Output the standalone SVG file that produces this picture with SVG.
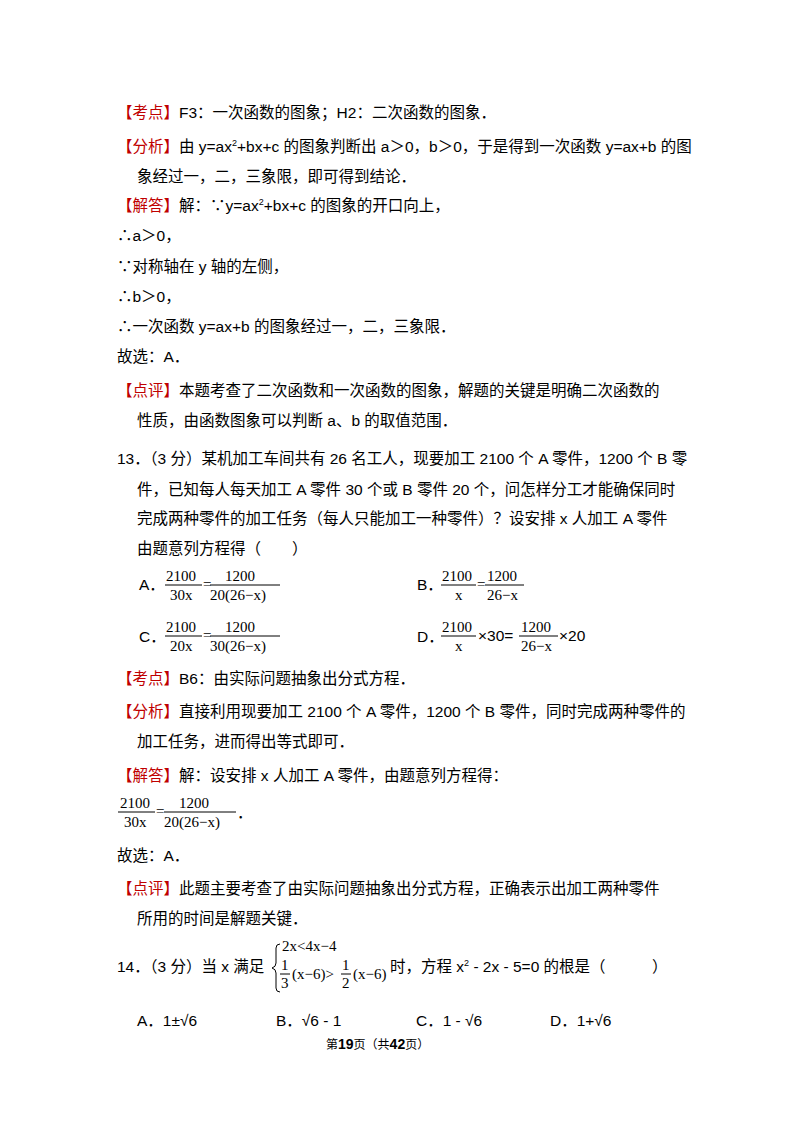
<svg xmlns="http://www.w3.org/2000/svg" width="800" height="1132" viewBox="0 0 800 1132">
<style>
text{font-family:"Liberation Sans","Noto Sans CJK SC",sans-serif;font-size:15.5px;fill:#000}
.r{fill:#c00000}
.s{font-family:"Liberation Serif","Noto Sans CJK SC",serif;font-size:15px}
.sm{font-size:9px}
line{stroke:#000;stroke-width:1}
</style>
<rect width="800" height="1132" fill="#fff"/>
<text x="117" y="118"><tspan class="r">【考点】</tspan>F3：一次函数的图象；H2：二次函数的图象．</text>
<text x="117" y="152"><tspan class="r">【分析】</tspan>由 y=ax<tspan class="sm" dy="-6">2</tspan><tspan dy="6">+bx+c 的图象判断出 a＞0，b＞0，于是得到一次函数 y=ax+b 的图</tspan></text>
<text x="137" y="182">象经过一，二，三象限，即可得到结论．</text>
<text x="117" y="211"><tspan class="r">【解答】</tspan>解：∵y=ax<tspan class="sm" dy="-6">2</tspan><tspan dy="6">+bx+c 的图象的开口向上，</tspan></text>
<text x="117" y="241">∴a＞0，</text>
<text x="117" y="272">∵对称轴在 y 轴的左侧，</text>
<text x="117" y="302">∴b＞0，</text>
<text x="117" y="332">∴一次函数 y=ax+b 的图象经过一，二，三象限．</text>
<text x="117" y="362">故选：A．</text>
<text x="117" y="396"><tspan class="r">【点评】</tspan>本题考查了二次函数和一次函数的图象，解题的关键是明确二次函数的</text>
<text x="137" y="426">性质，由函数图象可以判断 a、b 的取值范围．</text>
<text x="117" y="464">13．（3 分）某机加工车间共有 26 名工人，现要加工 2100 个 A 零件，1200 个 B 零</text>
<text x="137" y="495">件，已知每人每天加工 A 零件 30 个或 B 零件 20 个，问怎样分工才能确保同时</text>
<text x="137" y="524">完成两种零件的加工任务（每人只能加工一种零件）？设安排 x 人加工 A 零件</text>
<text x="137" y="554">由题意列方程得（　　）</text>
<g id="optA">
<text x="139" y="590">A．</text>
<text class="s" x="166" y="581">2100</text><line x1="165" y1="585" x2="202" y2="585"/><text class="s" x="170" y="600">30x</text>
<text class="s" x="203" y="589">=</text>
<text class="s" x="225" y="581">1200</text><line x1="210" y1="585" x2="280" y2="585"/><text class="s" x="210" y="600">20(26−x)</text>
</g>
<g id="optB">
<text x="417" y="590">B．</text>
<text class="s" x="442" y="581">2100</text><line x1="441" y1="585" x2="476" y2="585"/><text class="s" x="455" y="600">x</text>
<text class="s" x="477" y="589">=</text>
<text class="s" x="487" y="581">1200</text><line x1="485" y1="585" x2="524" y2="585"/><text class="s" x="487" y="600">26−x</text>
</g>
<g id="optC">
<text x="139" y="642">C．</text>
<text class="s" x="166" y="632">2100</text><line x1="165" y1="636" x2="202" y2="636"/><text class="s" x="170" y="651">20x</text>
<text class="s" x="203" y="640">=</text>
<text class="s" x="225" y="632">1200</text><line x1="210" y1="636" x2="280" y2="636"/><text class="s" x="210" y="651">30(26−x)</text>
</g>
<g id="optD">
<text x="417" y="642">D．</text>
<text class="s" x="442" y="632">2100</text><line x1="441" y1="636" x2="476" y2="636"/><text class="s" x="455" y="651">x</text>
<text x="478" y="641">×30=</text>
<text class="s" x="521" y="632">1200</text><line x1="519" y1="636" x2="558" y2="636"/><text class="s" x="521" y="651">26−x</text>
<text x="559" y="641">×20</text>
</g>
<text x="117" y="684"><tspan class="r">【考点】</tspan>B6：由实际问题抽象出分式方程．</text>
<text x="117" y="717"><tspan class="r">【分析】</tspan>直接利用现要加工 2100 个 A 零件，1200 个 B 零件，同时完成两种零件的</text>
<text x="137" y="747">加工任务，进而得出等式即可．</text>
<text x="117" y="781"><tspan class="r">【解答】</tspan>解：设安排 x 人加工 A 零件，由题意列方程得：</text>
<g id="ans">
<text class="s" x="120" y="808">2100</text><line x1="118" y1="812" x2="155" y2="812"/><text class="s" x="124" y="827">30x</text>
<text class="s" x="156" y="816">=</text>
<text class="s" x="179" y="808">1200</text><line x1="164" y1="812" x2="236" y2="812"/><text class="s" x="164" y="827">20(26−x)</text>
<text x="237" y="818">．</text>
</g>
<text x="117" y="861">故选：A．</text>
<text x="117" y="894"><tspan class="r">【点评】</tspan>此题主要考查了由实际问题抽象出分式方程，正确表示出加工两种零件</text>
<text x="137" y="924">所用的时间是解题关键．</text>
<g id="q14">
<text x="117" y="972">14．（3 分）当 x 满足</text>
<path d="M280,944 q-4,0 -4,4 v15 q0,4 -4,5 q4,1 4,5 v15 q0,4 4,4" fill="none" stroke="#000"/>
<text class="s" x="282" y="951">2x&lt;4x−4</text>
<text class="s" x="281" y="970">1</text><line x1="280" y1="974" x2="290" y2="974"/><text class="s" x="281" y="988">3</text>
<text class="s" x="292" y="979">(x−6)&gt;</text>
<text class="s" x="342" y="970">1</text><line x1="341" y1="974" x2="351" y2="974"/><text class="s" x="342" y="988">2</text>
<text class="s" x="353" y="979">(x−6)</text>
<text x="390" y="972">时，方程 x<tspan class="sm" dy="-6">2</tspan><tspan dy="6"> - 2x - 5=0 的根是（　　　）</tspan></text>
</g>
<text x="137" y="1026">A．1±√6</text>
<text x="276" y="1026">B．√6 - 1</text>
<text x="416" y="1026">C．1 - √6</text>
<text x="550" y="1026">D．1+√6</text>
<text x="326" y="1049" style="font-size:12px">第<tspan font-weight="bold" font-size="14">19</tspan>页（共<tspan font-weight="bold" font-size="14">42</tspan>页）</text>
</svg>
